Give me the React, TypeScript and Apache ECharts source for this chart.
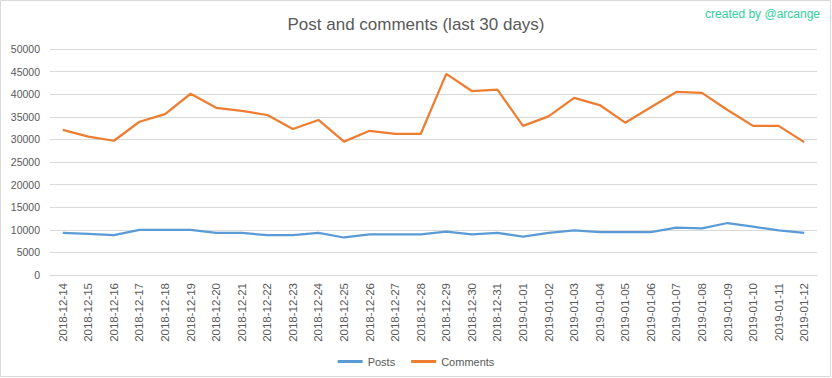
import React, { useEffect, useRef } from "react";
import * as echarts from "echarts";

const categories = [
  "2018-12-14", "2018-12-15", "2018-12-16", "2018-12-17", "2018-12-18",
  "2018-12-19", "2018-12-20", "2018-12-21", "2018-12-22", "2018-12-23",
  "2018-12-24", "2018-12-25", "2018-12-26", "2018-12-27", "2018-12-28",
  "2018-12-29", "2018-12-30", "2018-12-31", "2019-01-01", "2019-01-02",
  "2019-01-03", "2019-01-04", "2019-01-05", "2019-01-06", "2019-01-07",
  "2019-01-08", "2019-01-09", "2019-01-10", "2019-01-11", "2019-01-12",
];

const posts = [
  9300, 9100, 8800, 10000, 10000, 10000, 9300, 9300, 8800, 8800,
  9300, 8300, 9000, 9000, 9000, 9600, 9000, 9300, 8500, 9300,
  9850, 9500, 9500, 9500, 10500, 10300, 11500, 10700, 9850, 9300,
];

const comments = [
  32100, 30600, 29700, 33900, 35600, 40100, 37000, 36300, 35400, 32300,
  34300, 29500, 31900, 31200, 31200, 44500, 40700, 41000, 33000, 35100,
  39200, 37600, 33700, 37100, 40500, 40300, 36500, 33000, 33000, 29400,
];

const titleText = "Post and comments (last 30 days)";
const watermark = "created by @arcange";

export default function App() {
  const ref = useRef<HTMLDivElement>(null);

  useEffect(() => {
    if (!ref.current) return;
    const chart = echarts.init(ref.current, null, { renderer: "svg" });
    const textColor = "#595959";
    const font = "'Liberation Sans', Arial, sans-serif";
    chart.setOption({
      animation: false,
      backgroundColor: "#ffffff",
      title: {
        text: titleText,
        left: "center",
        top: 11,
        textStyle: {
          color: textColor,
          fontSize: 17,
          fontWeight: "normal",
          fontFamily: font,
        },
      },
      graphic: [
        {
          type: "rect",
          shape: { x: 0.5, y: 0.5, width: 830, height: 376 },
          style: { fill: "none", stroke: "#d9d9d9", lineWidth: 1 },
          silent: true,
        },
        {
          type: "text",
          right: 12,
          top: 8,
          style: {
            text: watermark,
            fill: "#2fcf9c",
            fontSize: 12,
            fontFamily: font,
          },
        },
      ],
      legend: {
        data: ["Posts", "Comments"],
        left: "center",
        top: 351,
        icon: "rect",
        itemWidth: 25,
        itemHeight: 3,
        itemGap: 16,
        textStyle: { color: textColor, fontSize: 11, fontFamily: font },
      },
      grid: { left: 50, right: 15, top: 49, bottom: 103, containLabel: false },
      xAxis: {
        type: "category",
        data: categories,
        boundaryGap: true,
        axisLine: { show: true, lineStyle: { color: "#d9d9d9" } },
        axisTick: { show: false },
        axisLabel: {
          rotate: 90,
          interval: 0,
          margin: 8,
          color: textColor,
          fontSize: 11.5,
          fontFamily: font,
        },
      },
      yAxis: {
        type: "value",
        min: 0,
        max: 50000,
        interval: 5000,
        axisLine: { show: false },
        axisTick: { show: false },
        splitLine: { lineStyle: { color: "#d9d9d9", width: 1 } },
        axisLabel: {
          color: textColor,
          fontSize: 10.5,
          margin: 10,
          fontFamily: font,
          formatter: (v: number) => String(v),
        },
      },
      series: [
        {
          name: "Posts",
          type: "line",
          data: posts,
          symbol: "none",
          lineStyle: { color: "#5b9bd5", width: 2.25 },
          itemStyle: { color: "#5b9bd5" },
        },
        {
          name: "Comments",
          type: "line",
          data: comments,
          symbol: "none",
          lineStyle: { color: "#ed7d31", width: 2.25 },
          itemStyle: { color: "#ed7d31" },
        },
      ],
    });
    return () => chart.dispose();
  }, []);

  return (
    <div
      ref={ref}
      style={{ position: "fixed", left: 0, top: 0, width: 832, height: 378 }}
    />
  );
}
